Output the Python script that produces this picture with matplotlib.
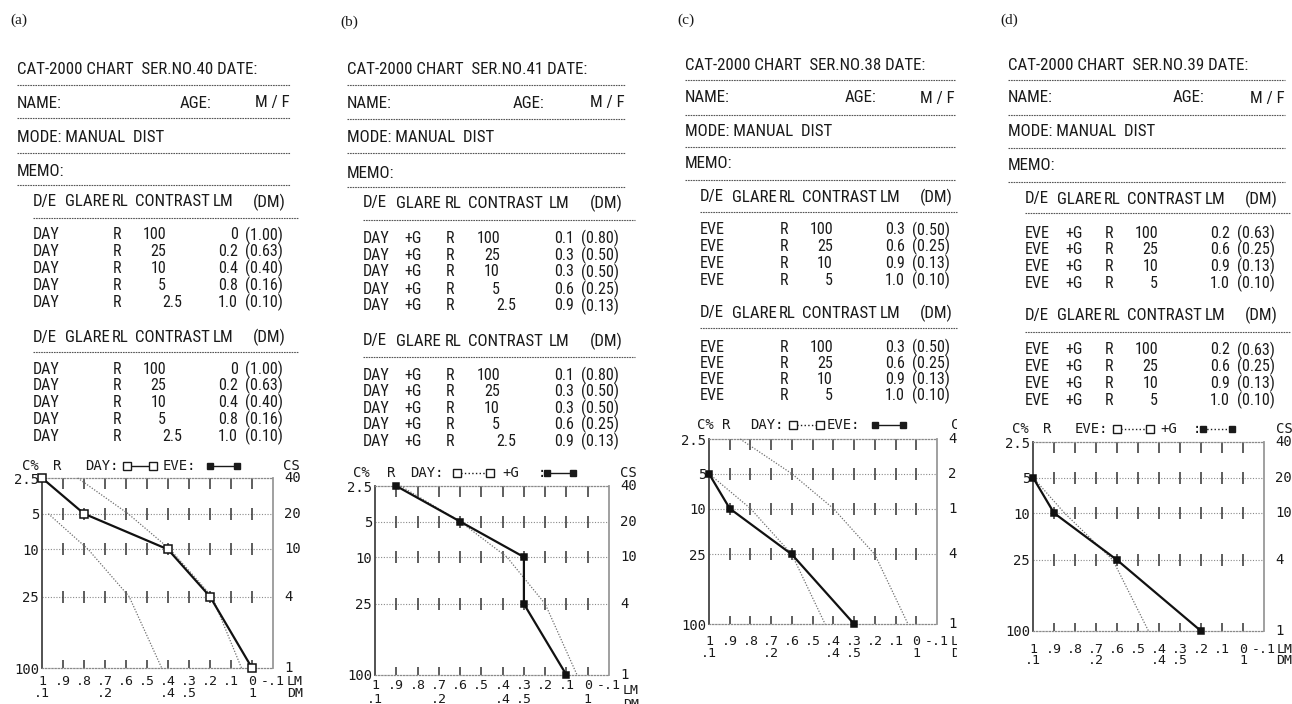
import os
import matplotlib
matplotlib.use("Agg")
import matplotlib.pyplot as plt
from matplotlib import font_manager
from matplotlib.font_manager import FontProperties
from matplotlib.lines import Line2D
from matplotlib.markers import TICKDOWN, TICKUP
from matplotlib.ticker import NullLocator
from matplotlib.transforms import Bbox, TransformedBbox

W, H = 1292, 704

# fonts: the printout uses a narrow sans, look for a condensed face first
BAD = ("Bold", "Italic", "Oblique", "Light", "Black", "Medium", "Thin", "Extra", "Semi")


def narrow_font():
    files = [f.fname for f in font_manager.fontManager.ttflist]
    for key in ("LiberationSansNarrow-Regular", "RobotoCondensed-Regular", "NotoSans-Condensed",
                "OpenSans_Condensed-Regular", "OpenSansCondensed", "DejaVuSansCondensed", "Condensed", "Narrow"):
        for fn in files:
            base = os.path.basename(fn)
            if key in base and not any(b in base.replace(key, "") for b in BAD):
                return FontProperties(fname=fn)
    return FontProperties(family="Liberation Sans")


SANS_FP = narrow_font()
MONO = "DejaVu Sans Mono"
SERIF = "Liberation Serif"

# ---- data ----
panel_tags = ["(a)", "(b)", "(c)", "(d)"]
ser_no = ["40", "41", "38", "39"]

contrast_levels = [2.5, 5, 10, 25, 100]
contrast_labels = ["2.5", "5", "10", "25", "100"]
cs_labels = ["40", "20", "10", "4", "1"]
lm_ticks = [1.0, 0.9, 0.8, 0.7, 0.6, 0.5, 0.4, 0.3, 0.2, 0.1, 0.0, -0.1]
lm_ticklabels = ["1\n.1", ".9", ".8", ".7\n.2", ".6", ".5", ".4\n.4", ".3\n.5",
                 ".2", ".1", "0\n1", "-.1"]

a_contrast = [100, 25, 10, 5, 2.5]
a_lm = [0, 0.2, 0.4, 0.8, 1.0]
a_dm = [1.00, 0.63, 0.40, 0.16, 0.10]

b_contrast = [100, 25, 10, 5, 2.5]
b_lm = [0.1, 0.3, 0.3, 0.6, 0.9]
b_dm = [0.80, 0.50, 0.50, 0.25, 0.13]

c_contrast = [100, 25, 10, 5]
c_lm = [0.3, 0.6, 0.9, 1.0]
c_dm = [0.50, 0.25, 0.13, 0.10]

d_contrast = [100, 25, 10, 5]
d_lm = [0.2, 0.6, 0.9, 1.0]
d_dm = [0.63, 0.25, 0.13, 0.10]

# dotted normal-range curves
upper_c = [2.5, 5, 10, 25, 100]
lower_c = [5, 10, 25, 100]
a_upper = [0.83, 0.59, 0.39, 0.19, 0.05]
a_lower = [0.97, 0.78, 0.585, 0.43]
b_upper = [0.88, 0.60, 0.38, 0.20, 0.05]
c_upper = [0.85, 0.60, 0.40, 0.20, 0.04]
c_lower = [1.0, 0.80, 0.60, 0.44]
d_lower = [1.0, 0.85, 0.62, 0.45]

panels = [
    dict(de="DAY", glare="", contrast=a_contrast, lm=a_lm, dm=a_dm, upper=a_upper, lower=a_lower, filled=False),
    dict(de="DAY", glare="+G", contrast=b_contrast, lm=b_lm, dm=b_dm, upper=b_upper, lower=None, filled=True),
    dict(de="EVE", glare="", contrast=c_contrast, lm=c_lm, dm=c_dm, upper=c_upper, lower=c_lower, filled=True),
    dict(de="EVE", glare="+G", contrast=d_contrast, lm=d_lm, dm=d_dm, upper=None, lower=d_lower, filled=True),
]

head_labels = ["D/E", "GLARE", "RL", "CONTRAST", "LM", "(DM)"]
head_off = [0, 32, 79, 102, 180, 220]

# ---- layout (pixels) ----
layout = [
    dict(tag=(10, 20), hx=17, hr=290, age=163, title=70, name=103, mode=137, memo=171,
         seps=[85, 118, 153, 185], tx=16, sx=1.0, th=[202, 337], tl=[218, 352], tr=298,
         r0=[235, 369], step=[16.8, 16.8], box=(42, 273, 478, 668), pad=5.0, lsp=0.95,
         lmoff=10, lmdy=0,
         leg=466, leg_text=[("C%", 22), ("R", 53), ("DAY:", 85), ("EVE:", 163), ("CS", 283)],
         leg_marks=[(127, 153, False, "-"), (210, 237, True, "-")], clip=None),
    dict(tag=(340, 22), hx=347, hr=625, age=166, title=70, name=103, mode=137, memo=173,
         seps=[85, 119, 153, 187], tx=16, sx=1.03, th=[203, 341], tl=[220, 357], tr=635,
         r0=[238, 375], step=[17.0, 16.6], box=(375, 609, 486, 675), pad=3.0, lsp=1.05,
         lmoff=10, lmdy=3.5,
         leg=473, leg_text=[("C%", 353), ("R", 387), ("DAY:", 410), ("+G", 502), (":", 538), ("CS", 620)],
         leg_marks=[(457, 490, False, ":"), (547, 573, True, "-")], clip=None),
    dict(tag=(677, 20), hx=685, hr=955, age=160, title=65, name=98, mode=132, memo=164,
         seps=[80, 115, 147, 180], tx=15, sx=1.0, th=[197, 313], tl=[212, 328], tr=957,
         r0=[230, 347], step=[16.7, 16.0], box=(709, 937, 439, 624), pad=8.0, lsp=0.85,
         lmoff=10, lmdy=0,
         leg=425, leg_text=[("C%", 697), ("R", 722), ("DAY:", 750), ("EVE:", 827), ("CS", 951)],
         leg_marks=[(793, 820, False, ":"), (875, 903, True, "-")], clip=957),
    dict(tag=(1000, 20), hx=1008, hr=1285, age=165, title=65, name=98, mode=132, memo=165,
         seps=[80, 115, 148, 182], tx=17, sx=1.0, th=[199, 315], tl=[213, 332], tr=1290,
         r0=[233, 350], step=[16.7, 16.7], box=(1033, 1264, 442, 631), pad=8.5, lsp=0.8,
         lmoff=9, lmdy=0,
         leg=429, leg_text=[("C%", 1012), ("R", 1043), ("EVE:", 1075), ("+G", 1160), (":", 1193), ("CS", 1276)],
         leg_marks=[(1117, 1150, False, ":"), (1203, 1232, True, ":")], clip=None),
]

INK = "#1a1a1a"

fig = plt.figure(figsize=(W / 100, H / 100), dpi=100)
renderer = fig.canvas.get_renderer()

# size the narrow font so the title line spans its printed width (~241 px)
probe = fig.text(0, 0, "CAT-2000 CHART  SER.NO.40 DATE:", fontproperties=SANS_FP, fontsize=12)
HEAD_SIZE = min(12.5, 12 * 241 / probe.get_window_extent(renderer).width)
probe.remove()
ROW_SIZE = HEAD_SIZE * 0.95


def fx(x):
    return x / W


def fy(y):
    return 1 - y / H


def ftext(x, y, s, size=None, **kw):
    kw.setdefault("va", "center")
    kw.setdefault("color", INK)
    if "family" not in kw:
        fp = SANS_FP.copy()
        fp.set_size(size or HEAD_SIZE)
        kw["fontproperties"] = fp
    elif size:
        kw["fontsize"] = size
    return fig.text(fx(x), fy(y), s, **kw)


def hline(x0, x1, y):
    fig.add_artist(Line2D([fx(x0), fx(x1)], [fy(y), fy(y)], transform=fig.transFigure,
                          color="#555555", lw=0.8, ls=(0, (1.5, 0.8))))


for k, (spec, d) in enumerate(zip(layout, panels)):
    clip = None
    if spec["clip"]:
        clip = TransformedBbox(Bbox([[0, 0], [fx(spec["clip"]), 1]]), fig.transFigure)

    def put(t):
        if clip is not None:
            t.set_clip_box(clip)
            t.set_clip_on(True)
        return t

    hx, hr = spec["hx"], spec["hr"]
    ftext(*spec["tag"], panel_tags[k], family=SERIF, size=11)
    ftext(hx, spec["title"], f"CAT-2000 CHART  SER.NO.{ser_no[k]} DATE:")
    ftext(hx, spec["name"], "NAME:")
    ftext(hx + spec["age"], spec["name"], "AGE:")
    ftext(hr, spec["name"], "M / F", ha="right")
    ftext(hx, spec["mode"], "MODE: MANUAL  DIST")
    ftext(hx, spec["memo"], "MEMO:")
    for y in spec["seps"]:
        hline(hx, hr, y)

    # the two printed result tables
    x0, s = hx + spec["tx"], spec["sx"]
    for t in range(2):
        for off, lab in zip(head_off, head_labels):
            ftext(x0 + off * s, spec["th"][t], lab)
        hline(x0, spec["tr"], spec["tl"][t])
        for i, (c, lm, dm) in enumerate(zip(d["contrast"], d["lm"], d["dm"])):
            y = spec["r0"][t] + i * spec["step"][t]
            ftext(x0, y, d["de"], size=ROW_SIZE)
            if d["glare"]:
                ftext(x0 + 40 * s, y, d["glare"], size=ROW_SIZE)
            ftext(x0 + 80 * s, y, "R", size=ROW_SIZE)
            cx = 133 if float(c).is_integer() else 149
            ftext(x0 + cx * s, y, f"{c:g}", ha="right", size=ROW_SIZE)
            ftext(x0 + 205 * s, y, "0" if lm == 0 else f"{lm:.1f}", ha="right", size=ROW_SIZE)
            ftext(x0 + 212 * s, y, f"({dm:.2f})", size=ROW_SIZE)

    # legend line above the chart
    ly = spec["leg"]
    for txt, x in spec["leg_text"]:
        put(ftext(x, ly, txt, family=MONO, size=10))
    for xa, xb, filled, style in spec["leg_marks"]:
        fig.add_artist(Line2D([fx(xa), fx(xb)], [fy(ly), fy(ly)], transform=fig.transFigure,
                              color=INK, lw=1.0, ls=style, marker="s", ms=4.5 if filled else 5.5,
                              mfc=INK if filled else "white", mec=INK, mew=1.0))

    # chart
    bx0, bx1, by0, by1 = spec["box"]
    ax = fig.add_axes([fx(bx0), fy(by1), (bx1 - bx0) / W, (by1 - by0) / H])
    ax.set_yscale("log")
    ax.set_xlim(lm_ticks[0], lm_ticks[-1])
    ax.set_ylim(contrast_levels[-1], contrast_levels[0])
    ax.yaxis.set_minor_locator(NullLocator())
    ax.set_yticks(contrast_levels, contrast_labels)
    ax.set_xticks(lm_ticks, lm_ticklabels)
    ax.tick_params(axis="both", length=0, labelsize=10, colors=INK)
    ax.tick_params(axis="x", pad=spec["pad"], labelsize=9.5)
    ax.tick_params(axis="y", pad=2)
    for lab in ax.get_yticklabels():
        lab.set_fontfamily(MONO)
    for lab in ax.get_xticklabels():
        lab.set_fontfamily(MONO)
        lab.set_linespacing(spec["lsp"])

    for side in ("top", "bottom"):
        ax.spines[side].set_color("#8a8a8a")
        ax.spines[side].set_linestyle((0, (1, 1.5)))
        ax.spines[side].set_linewidth(0.9)
    ax.spines["left"].set_color("#444444")
    ax.spines["left"].set_linewidth(1.3)
    ax.spines["right"].set_color("#999999")
    ax.spines["right"].set_linewidth(1.3)

    inner = lm_ticks[1:-1]
    for c in contrast_levels[1:-1]:
        ax.axhline(c, color="#8a8a8a", lw=0.8, ls=(0, (1, 1.5)), zorder=1)
        ax.plot(inner, [c] * len(inner), ls="none", marker="|", ms=8.5, mew=1.1, color="#333333", zorder=2)
    ax.plot(inner, [contrast_levels[0]] * len(inner), ls="none", marker=TICKDOWN, ms=8,
            mew=1.1, color="#333333", clip_on=False, zorder=2)
    ax.plot(inner, [contrast_levels[-1]] * len(inner), ls="none", marker=TICKUP, ms=5.5,
            mew=1.1, color="#333333", clip_on=False, zorder=2)

    if d["upper"]:
        ax.plot(d["upper"], upper_c, color="#6f6f6f", lw=0.9, ls=(0, (1, 1.3)), clip_on=False, zorder=3)
    if d["lower"]:
        ax.plot(d["lower"], lower_c, color="#6f6f6f", lw=0.9, ls=(0, (1, 1.3)), clip_on=False, zorder=3)

    ax.plot(d["lm"], d["contrast"], color="#111111", lw=1.6, marker="s",
            ms=4.5 if d["filled"] else 6, mfc="#111111" if d["filled"] else "white",
            mec="#111111", mew=1.1, clip_on=False, zorder=5)

    # CS scale on the right and the LM / DM axis names
    xo = 1 + 11 / (bx1 - bx0)
    for c, lab in zip(contrast_levels, cs_labels):
        put(ax.text(xo, c, lab, transform=ax.get_yaxis_transform(), va="center", ha="left",
                    family=MONO, fontsize=10, color=INK))
    put(ax.annotate("LM\nDM", xy=(lm_ticks[-1], 0), xycoords=("data", "axes fraction"),
                    xytext=(spec["lmoff"], -spec["pad"] - spec["lmdy"]), textcoords="offset points",
                    ha="left", va="top", family=MONO, fontsize=9.5, color=INK,
                    linespacing=spec["lsp"]))

fig.savefig("out.png", dpi=100, facecolor="white")
